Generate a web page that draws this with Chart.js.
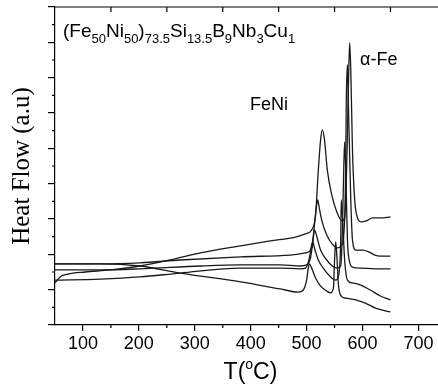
<!DOCTYPE html>
<html>
<head>
<meta charset="utf-8">
<script src="https://cdn.jsdelivr.net/npm/chart.js@4.4.1/dist/chart.umd.min.js"></script>
<style>
  html, body { margin: 0; padding: 0; background: #fff; }
  canvas { display: block; }
</style>
</head>
<body>
<canvas id="dsc" width="438" height="385"></canvas>
<script>
// DSC traces, temperature in C and heat flow in arbitrary units
const tempA = [50, 59, 73, 104, 149, 202, 256, 310, 382, 435, 480, 498, 509, 516, 521, 525, 528, 532, 537, 545, 554, 563, 568, 572, 575, 577, 579, 582, 586, 591, 597, 607, 618, 632, 650]
const flowA = [1.19, 1.36, 1.44, 1.50, 1.56, 1.67, 1.84, 2.04, 2.24, 2.38, 2.49, 2.58, 2.69, 3.12, 4.39, 5.24, 5.52, 5.24, 4.39, 3.68, 3.20, 2.95, 3.03, 4.67, 6.94, 7.99, 7.22, 4.96, 3.54, 3.03, 2.92, 2.95, 3.03, 3.03, 3.06]

const tempB = [50, 131, 202, 274, 382, 471, 498, 509, 514, 518, 520, 521, 527, 536, 546, 555, 562, 568, 570, 571, 573, 575, 579, 582, 588, 600, 611, 622, 632, 650]
const flowB = [1.73, 1.73, 1.76, 1.84, 1.93, 1.98, 2.04, 2.18, 2.83, 3.40, 3.54, 3.46, 2.97, 2.55, 2.29, 2.18, 2.24, 2.97, 4.67, 6.37, 7.37, 6.09, 3.54, 2.41, 2.12, 2.12, 2.07, 1.98, 1.95, 1.95]

const tempC = [50, 131, 202, 310, 382, 453, 489, 500, 507, 512, 514, 518, 525, 536, 546, 555, 561, 564, 566, 568, 570, 573, 577, 582, 597, 623, 650]
const flowC = [1.56, 1.56, 1.59, 1.67, 1.70, 1.70, 1.67, 1.70, 1.90, 2.46, 2.69, 2.52, 2.12, 1.84, 1.67, 1.61, 1.67, 2.69, 4.11, 5.18, 4.39, 2.41, 1.78, 1.64, 1.61, 1.59, 1.59]

const tempD = [50, 131, 202, 274, 382, 453, 489, 498, 505, 509, 511, 514, 521, 532, 543, 552, 557, 561, 562, 564, 568, 573, 582, 597, 614, 632, 650]
const flowD = [1.27, 1.30, 1.36, 1.47, 1.61, 1.61, 1.59, 1.61, 1.90, 2.27, 2.35, 2.18, 1.84, 1.56, 1.36, 1.27, 1.39, 2.41, 3.54, 3.12, 1.84, 1.27, 1.19, 1.13, 0.99, 0.82, 0.71]

const tempE = [50, 131, 202, 274, 382, 453, 485, 494, 500, 503, 505, 509, 516, 525, 536, 543, 548, 550, 552, 554, 557, 562, 570, 588, 605, 623, 650]
const flowE = [1.73, 1.73, 1.67, 1.47, 1.22, 1.02, 0.93, 0.99, 1.27, 1.61, 1.73, 1.61, 1.33, 1.10, 0.96, 0.91, 1.05, 1.84, 2.35, 1.98, 1.13, 0.82, 0.76, 0.71, 0.62, 0.48, 0.37]

const xMajor = [100, 200, 300, 400, 500, 600, 700]
const xMinor = [150, 250, 350, 450, 550, 650]
const xTop = [150, 250, 350, 450, 550, 650]
const yMajor = [0, 1, 2, 3, 4, 5, 6, 7, 8, 9]
const yMinor = [0.5, 1.5, 2.5, 3.5, 4.5, 5.5, 6.5, 7.5, 8.5]

const sans = "'Liberation Sans', Arial, sans-serif"

const toPoints = (ts, fs) => ts.map((t, i) => ({x: t, y: fs[i]}))

const trace = (ts, fs) => ({
  data: toPoints(ts, fs),
  showLine: true,
  borderColor: '#1a1a1a',
  borderWidth: 1.3,
  pointRadius: 0,
  cubicInterpolationMode: 'monotone',
  fill: false
})

// extra axis bits and the text annotations
const decor = {
  id: 'decor',
  afterDraw(chart) {
    const ctx = chart.ctx
    const area = chart.chartArea
    const xs = chart.scales.x
    const ys = chart.scales.y
    ctx.save()
    ctx.strokeStyle = '#000'
    ctx.lineWidth = 1.2
    ctx.beginPath()
    ctx.moveTo(area.left, area.top)
    ctx.lineTo(area.right, area.top)
    xTop.forEach(v => {
      const px = xs.getPixelForValue(v)
      ctx.moveTo(px, area.top)
      ctx.lineTo(px, area.top + 5)
    })
    xMinor.forEach(v => {
      const px = xs.getPixelForValue(v)
      ctx.moveTo(px, area.bottom)
      ctx.lineTo(px, area.bottom + 3)
    })
    yMinor.forEach(v => {
      const py = ys.getPixelForValue(v)
      ctx.moveTo(area.left, py)
      ctx.lineTo(area.left - 3, py)
    })
    ctx.stroke()

    ctx.fillStyle = '#000'
    ctx.textBaseline = 'alphabetic'
    ctx.textAlign = 'left'

    // x axis title T(oC)
    ctx.font = '23px ' + sans
    const w1 = ctx.measureText('T(').width
    ctx.font = '14px ' + sans
    const w2 = ctx.measureText('o').width
    ctx.font = '23px ' + sans
    const w3 = ctx.measureText('C)').width
    let tx = (area.left + area.right) / 2 - (w1 + w2 + w3) / 2 + 4
    ctx.fillText('T(', tx, 379)
    tx += w1
    ctx.font = '14px ' + sans
    ctx.fillText('o', tx, 369)
    tx += w2
    ctx.font = '23px ' + sans
    ctx.fillText('C)', tx, 379)

    // composition label
    const parts = [['(Fe', 0], ['50', 1], ['Ni', 0], ['50', 1], [')', 0], ['73.5', 1], ['Si', 0], ['13.5', 1],
      ['B', 0], ['9', 1], ['Nb', 0], ['3', 1], ['Cu', 0], ['1', 1]]
    let cx = 63
    parts.forEach(([s, sub]) => {
      ctx.font = (sub ? '13px ' : '19px ') + sans
      ctx.fillText(s, cx, sub ? 43 : 37)
      cx += ctx.measureText(s).width
    })

    ctx.font = '18px ' + sans
    ctx.fillText('FeNi', 250, 110)
    ctx.fillText('\u03b1-Fe', 360, 65)
    ctx.restore()
  }
}

new Chart(document.getElementById('dsc'), {
  type: 'scatter',
  data: {
    datasets: [
      trace(tempA, flowA),
      trace(tempB, flowB),
      trace(tempC, flowC),
      trace(tempD, flowD),
      trace(tempE, flowE)
    ]
  },
  options: {
    responsive: false,
    animation: false,
    devicePixelRatio: 1,
    layout: {padding: {top: 7, right: 0, left: 0, bottom: 0}},
    plugins: {legend: {display: false}, tooltip: {enabled: false}},
    scales: {
      x: {
        type: 'linear',
        min: 50,
        max: 735,
        afterBuildTicks: s => { s.ticks = xMajor.map(v => ({value: v})) },
        afterFit: s => { s.height = 60 },
        border: {display: true, color: '#000', width: 1.2},
        grid: {drawOnChartArea: false, tickLength: 6, color: '#000', lineWidth: 1.2},
        ticks: {color: '#000', font: {family: sans, size: 18}, padding: 2, maxRotation: 0}
      },
      y: {
        type: 'linear',
        min: 0,
        max: 9,
        afterBuildTicks: s => { s.ticks = yMajor.map(v => ({value: v})) },
        afterFit: s => { s.width = 55 },
        border: {display: true, color: '#000', width: 1.2},
        grid: {drawOnChartArea: false, tickLength: 7, color: '#000', lineWidth: 1.2},
        ticks: {display: false},
        title: {
          display: true,
          text: 'Heat Flow (a.u)',
          color: '#000',
          font: {family: "'Liberation Serif', 'Times New Roman', serif", size: 25},
          padding: {top: 7}
        }
      }
    }
  },
  plugins: [decor]
})
</script>
</body>
</html>
